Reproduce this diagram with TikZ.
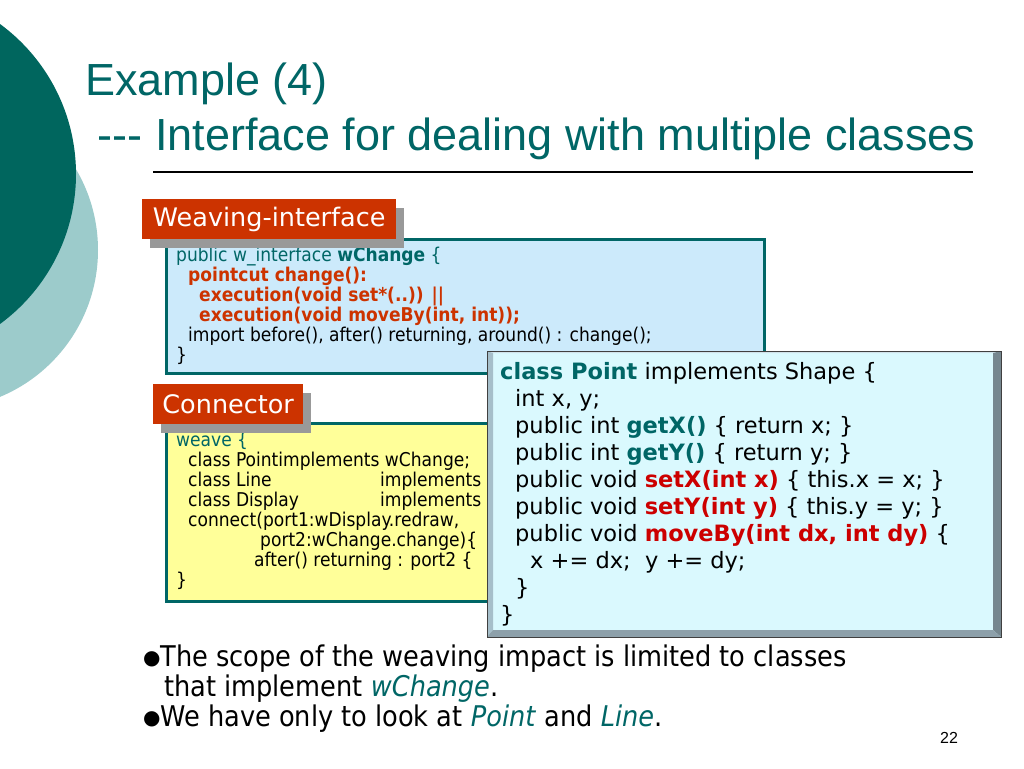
\documentclass[tikz,border=0pt]{standalone}
\usepackage{fontspec}
\setmainfont{Liberation Sans}
\newfontfamily\verdana{DejaVu Sans}
\newfontfamily\tahoma{DejaVu Sans Condensed}
\usepackage{tikz}
\usetikzlibrary{positioning, shadows}

\definecolor{slideTeal}{HTML}{00665E}
\definecolor{ringTeal}{HTML}{9CCBCB}
\definecolor{codeTeal}{HTML}{006666}
\definecolor{labelRed}{HTML}{CC3300}
\definecolor{codeOrange}{HTML}{CC3300}
\definecolor{codeRed}{HTML}{CC0000}
\definecolor{boxBlue}{HTML}{CCEAFB}
\definecolor{boxYellow}{HTML}{FFFF99}
\definecolor{pointFace}{HTML}{DAF9FE}
\definecolor{bevelTop}{HTML}{D0E2EA}
\definecolor{bevelLeft}{HTML}{A6BFCA}
\definecolor{bevelRight}{HTML}{76878F}
\definecolor{bevelBottom}{HTML}{8DA0AA}
\definecolor{shadowGrey}{HTML}{999999}

\begin{document}
\begin{tikzpicture}[x=1pt, y=-1pt,
                    title/.style={anchor=base west, inner sep=0pt, align=left,
                                  text=codeTeal, font=\fontsize{45}{55}\selectfont},
                    codebox/.style={draw=codeTeal, line width=3pt, anchor=north west,
                                    inner sep=0pt},
                    code/.style={anchor=base west, inner sep=0pt, align=left,
                                 font=\tahoma\fontsize{19}{20}\selectfont},
                    tag/.style={fill=labelRed, text=white, anchor=north west,
                                inner sep=0pt, minimum height=40pt,
                                font=\verdana\fontsize{25.5}{27}\selectfont,
                                drop shadow={shadow xshift=8pt, shadow yshift=-9pt,
                                             opacity=1, fill=shadowGrey}},
                    bullets/.style={anchor=base west, inner sep=0pt, align=left,
                                    font=\tahoma\fontsize{28.5}{30}\selectfont}]
    \path[use as bounding box, clip] (0,0) rectangle (1024,768);
    \fill[white] (0,0) rectangle (1024,768);

    % circles on the left
    \fill[ringTeal] (-61,250) circle (159);
    \fill[slideTeal] (-110,174) circle (186);

    % title (multi-line nodes sit on their last baseline)
    \node[title] (exTitle) at (85,150) {Example (4)\\
        \hspace*{12.5pt}{-}{-}{-} Interface for dealing with multiple classes};
    \draw[line width=1.5pt] (153,172) -- (973,172);

    % weaving interface
    \node[codebox, fill=boxBlue, minimum width=598pt, minimum height=134pt]
        (wiBox) at (165,238) {};
    \node[code] (wiCode) at (176,361) {%
        \textcolor{codeTeal}{public w\_interface \textbf{wChange} \{}\\
        \hspace*{12pt}\textcolor{codeOrange}{\textbf{pointcut change():}}\\
        \hspace*{23pt}\textcolor{codeOrange}{\textbf{execution(void set*(..)) ||}}\\
        \hspace*{23pt}\textcolor{codeOrange}{\textbf{execution(void moveBy(int, int));}}\\
        \hspace*{12pt}import before(), after() returning, around() : change();\\
        \}};
    \node[tag, minimum width=254pt] (wiTag) at (142,199) {Weaving-interface};

    % connector
    \node[codebox, fill=boxYellow, minimum width=598pt, minimum height=178pt]
        (coBox) at (165,422) {};
    \node[code] (coCode) at (176,586) {%
        \textcolor{codeTeal}{weave \{}\\
        \hspace*{12pt}class Pointimplements wChange;\\
        \hspace*{12pt}\makebox[192pt][l]{class Line}implements\\
        \hspace*{12pt}\makebox[192pt][l]{class Display}implements\\
        \hspace*{12pt}connect(port1:wDisplay.redraw,\\
        \hspace*{84pt}port2:wChange.change)\{\\
        \hspace*{78pt}after() returning : port2 \{\\
        \}};
    \node[tag, minimum width=150pt] (coTag) at (153,384) {Connector};

    % class Point, bevelled box
    \fill[pointFace] (487,351) rectangle (1001,637);
    \fill[bevelTop] (487,351) -- (1001,351) -- (993,353) -- (493,353) -- cycle;
    \fill[bevelLeft] (487,351) -- (493,353) -- (493,630) -- (487,637) -- cycle;
    \fill[bevelRight] (1001,351) -- (1001,637) -- (993,630) -- (993,353) -- cycle;
    \fill[bevelBottom] (487,637) -- (1001,637) -- (993,630) -- (493,630) -- cycle;
    \draw[line width=1pt, black!75] (487,351) rectangle (1001,637);
    \node[code, font=\verdana\fontsize{22.5}{27}\selectfont] (ptCode) at (500,622) {%
        \textcolor{codeTeal}{\textbf{class Point}} implements Shape \{\\
        \hspace*{15pt}int x, y;\\
        \hspace*{15pt}public int \textcolor{codeTeal}{\textbf{getX()}} \{ return x; \}\\
        \hspace*{15pt}public int \textcolor{codeTeal}{\textbf{getY()}} \{ return y; \}\\
        \hspace*{15pt}public void \textcolor{codeRed}{\textbf{setX(int x)}} \{ this.x = x; \}\\
        \hspace*{15pt}public void \textcolor{codeRed}{\textbf{setY(int y)}} \{ this.y = y; \}\\
        \hspace*{15pt}public void \textcolor{codeRed}{\textbf{moveBy(int dx, int dy)}} \{\\
        \hspace*{30pt}x += dx;\ \ y += dy;\\
        \hspace*{15pt}\}\\
        \}};

    % bullets
    \node[bullets] (notes) at (143,726) {%
        \raisebox{1.5pt}{\verdana\fontsize{20}{20}\selectfont ●}The scope of the weaving impact is limited to classes\\
        \hspace*{21pt}that implement \textcolor{codeTeal}{\textit{wChange}}.\\
        \raisebox{1.5pt}{\verdana\fontsize{20}{20}\selectfont ●}We have only to look at
        \textcolor{codeTeal}{\textit{Point}} and \textcolor{codeTeal}{\textit{Line}}.};

    \node[anchor=base west, inner sep=0pt, font=\fontsize{16}{16}\selectfont]
        (pageNo) at (940,743) {22};
\end{tikzpicture}
\end{document}
